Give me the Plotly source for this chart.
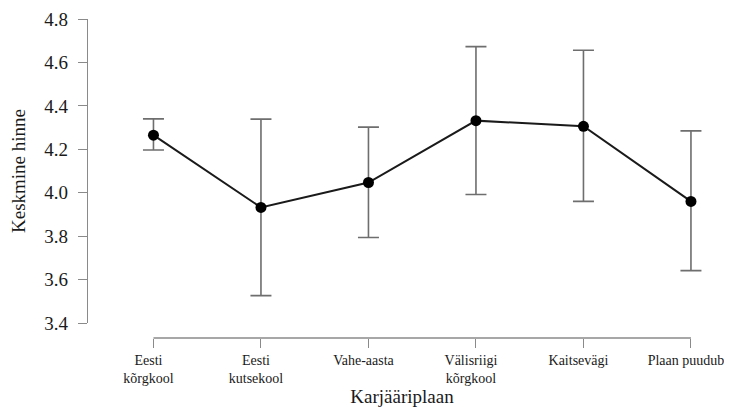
import plotly.graph_objects as go

categories = ["Eesti kõrgkool", "Eesti kutsekool", "Vahe-aasta", "Välisriigi kõrgkool", "Kaitsevägi", "Plaan puudub"]
tick_labels = ["Eesti<br>kõrgkool", "Eesti<br>kutsekool", "Vahe-aasta", "Välisriigi<br>kõrgkool", "Kaitsevägi", "Plaan puudub"]
means = [4.265, 3.932, 4.047, 4.332, 4.306, 3.960]
ci_upper = [4.340, 4.339, 4.302, 4.673, 4.656, 4.285]
ci_lower = [4.197, 3.526, 3.794, 3.992, 3.960, 3.641]

err_plus = [u - m for u, m in zip(ci_upper, means)]
err_minus = [m - l for m, l in zip(means, ci_lower)]

FONT = "Liberation Serif, Times New Roman, serif"
AXIS_GRAY = "#8a8a8a"
TEXT = "#1a1a1a"

fig = go.Figure()
fig.add_trace(go.Scatter(
    x=categories, y=means,
    mode="lines+markers",
    line=dict(color="#1a1a1a", width=2),
    marker=dict(color="#000000", size=11),
    error_y=dict(type="data", symmetric=False, array=err_plus, arrayminus=err_minus,
                 color="#6e6e6e", thickness=1.6, width=10.5),
    showlegend=False,
))

# page has an 8px body margin, so the figure is 8px smaller and shifted
fig.update_layout(
    width=724, height=402,
    margin=dict(l=80, r=16, t=11, b=72),
    paper_bgcolor="white", plot_bgcolor="white",
    font=dict(family=FONT, color=TEXT),
    xaxis=dict(
        type="category",
        tickvals=categories, ticktext=tick_labels,
        range=[-0.609, 5.233],
        automargin=False,
        showline=False, showgrid=False, zeroline=False,
        ticks="outside", ticklen=9, tickwidth=1.3, tickcolor=AXIS_GRAY,
        ticklabelshift=-5,
        tickfont=dict(size=14, family=FONT, color=TEXT),
        anchor="free", position=0,
        title=dict(text="Karjääriplaan", font=dict(size=19, family=FONT, color=TEXT), standoff=0),
    ),
    yaxis=dict(
        domain=[0.047, 1],
        range=[3.4, 4.8], dtick=0.2, tick0=3.4, tickformat=".1f",
        automargin=False,
        showline=True, linecolor=AXIS_GRAY, linewidth=1.3,
        showgrid=False, zeroline=False,
        ticks="outside", ticklen=9, tickwidth=1.3, tickcolor=AXIS_GRAY,
        ticklabelstandoff=6,
        tickfont=dict(size=19, family=FONT, color=TEXT),
        title=dict(text="Keskmine hinne", font=dict(size=19, family=FONT, color=TEXT), standoff=14),
    ),
    shapes=[dict(type="line", xref="x", yref="paper", x0=0, x1=5, y0=0, y1=0,
                 line=dict(color=AXIS_GRAY, width=1.3), layer="below")],
)

fig.write_html("out.html")
